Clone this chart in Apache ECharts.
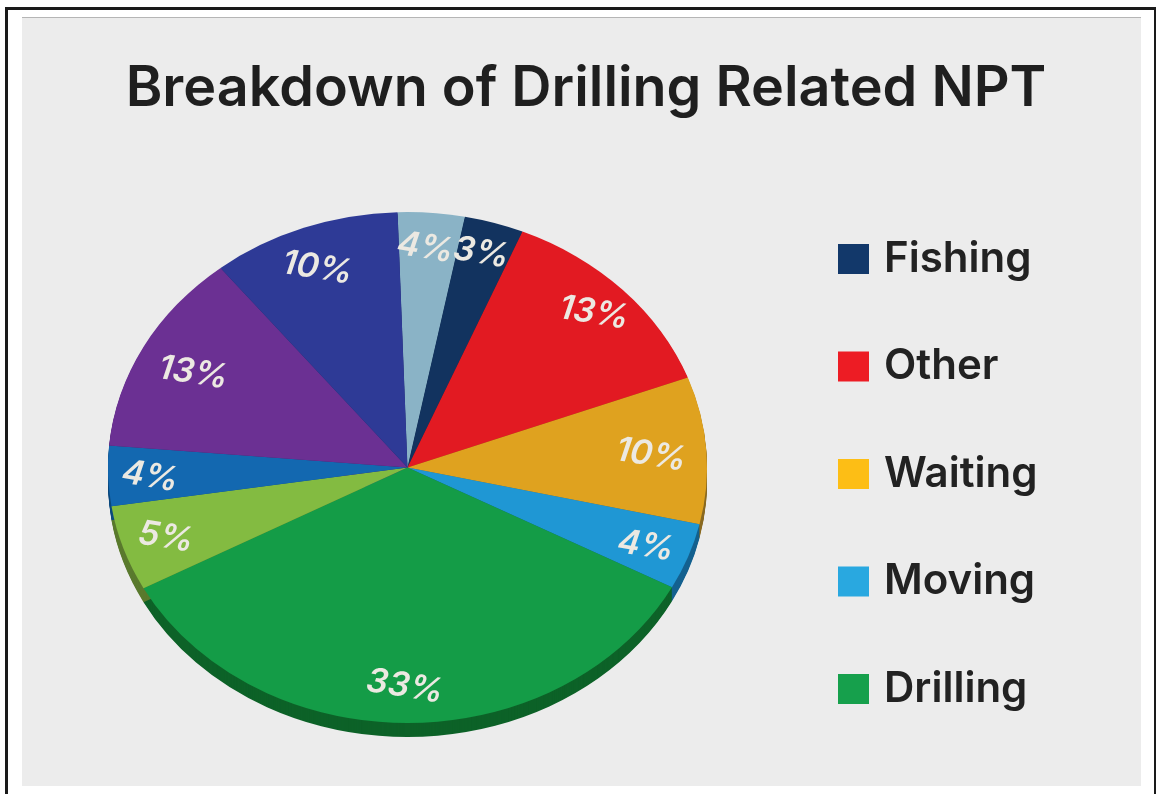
<!DOCTYPE html>
<html>
<head>
<meta charset="utf-8">
<style>html,body{margin:0;padding:0;background:#fff}#c{width:1156px;height:794px}</style>
<script src="https://cdn.jsdelivr.net/npm/echarts@6/dist/echarts.min.js"></script>
</head>
<body>
<div id="c"></div>
<script>
const chartTitle = 'Breakdown of Drilling Related NPT';
const legendNames = ['Fishing', 'Other', 'Waiting', 'Moving', 'Drilling'];
const legendColors = ['#12386a', '#ed1c24', '#fdbe15', '#29a8e0', '#16a04c'];
// clockwise from the top
const sliceShares = [3.6, 3.2, 13, 9.3, 4.2, 34.4, 5.4, 3.8, 12.9, 10.2];
const sliceLabels = ['4%', '3%', '13%', '10%', '4%', '33%', '5%', '4%', '13%', '10%'];
const sliceColors = ['#8ab3c6', '#12335f', '#e21a22', '#dfa21f', '#1f97d4', '#149c47', '#83bb41', '#1368b0', '#6b3093', '#2e3a96'];
const sideColors = ['#6d8e9e', '#0c2444', '#9c1418', '#8a6a20', '#14608f', '#0d6228', '#5a7a2e', '#0d4a7e', '#4a2068', '#1f2868'];

// layout only: how far along its radius each slice's label sits
const labelReach = [0.87, 0.885, 0.88, 0.825, 0.86, 0.85, 0.84, 0.85, 0.80, 0.84];
const FONT = 'Inter, Roboto, "Noto Sans", sans-serif';
const CX = 407.5, CY = 467.5, RX = 299.5, RY = 255.5, DEPTH = 14, START = -1.9;
const total = sliceShares.reduce((a, b) => a + b, 0);
let acc = START;
const sliceData = sliceShares.map((v, i) => {
  const s = acc; acc += v / total * 360;
  return { value: [s, acc, v], name: sliceLabels[i] };
});
const rad = d => (d - 90) * Math.PI / 180;

const chart = echarts.init(document.getElementById('c'), null, { renderer: 'canvas' });
chart.setOption({
  animation: false,
  backgroundColor: '#ffffff',
  title: {
    text: chartTitle, left: 581, top: 56, textAlign: 'center',
    textStyle: { fontFamily: FONT, fontWeight: 600, fontSize: 55.7, color: '#1f1f1f' }
  },
  graphic: [
    { type: 'rect', z: 0, shape: { x: 5, y: 7, width: 3, height: 787 }, style: { fill: '#1a1a1a' } },
    { type: 'rect', z: 0, shape: { x: 5, y: 7, width: 1151, height: 3 }, style: { fill: '#1a1a1a' } },
    { type: 'rect', z: 0, shape: { x: 1154, y: 7, width: 2, height: 787 }, style: { fill: '#1a1a1a' } },
    { type: 'rect', z: 0, shape: { x: 22, y: 17, width: 1119, height: 769 }, style: { fill: '#ececec' } },
    { type: 'rect', z: 0, shape: { x: 22, y: 17, width: 1119, height: 1 }, style: { fill: '#b5b5b5' } }
  ],
  legend: {
    orient: 'vertical', left: 833, top: 233,
    itemWidth: 31, itemHeight: 30, itemGap: 65.5, icon: 'rect', selectedMode: false,
    data: legendNames,
    textStyle: { fontFamily: FONT, fontWeight: 600, fontSize: 42, color: '#222222', padding: [0, 0, 0, 10] }
  },
  series: [
    {
      type: 'custom', name: 'side', coordinateSystem: 'none', z: 2, silent: true,
      data: sliceData,
      renderItem: (p, api) => {
        const children = [];
        for (let d = DEPTH; d >= 1; d -= 1) {
          children.push({
            type: 'sector', x: CX, y: CY + d, scaleY: RY / RX,
            shape: { cx: 0, cy: 0, r0: 0, r: RX, startAngle: rad(api.value(0)), endAngle: rad(api.value(1)), clockwise: true },
            style: { fill: sideColors[p.dataIndex] }
          });
        }
        return { type: 'group', children };
      }
    },
    {
      type: 'custom', name: 'top', coordinateSystem: 'none', z: 3, silent: true,
      data: sliceData,
      renderItem: (p, api) => {
        const s = api.value(0), e = api.value(1), m = (s + e) / 2;
        const reach = labelReach[p.dataIndex];
        return {
          type: 'group',
          children: [
            {
              type: 'sector', x: CX, y: CY, scaleY: RY / RX,
              shape: { cx: 0, cy: 0, r0: 0, r: RX, startAngle: rad(s), endAngle: rad(e), clockwise: true },
              style: { fill: sliceColors[p.dataIndex] }
            },
            {
              type: 'text', z2: 10,
              x: CX + RX * reach * Math.cos(rad(m)) - 3,
              y: CY + 2 + RY * reach * Math.sin(rad(m)),
              rotation: -9 * Math.PI / 180,
              style: {
                text: sliceLabels[p.dataIndex], align: 'center', verticalAlign: 'middle',
                fill: '#ece9e2', font: 'italic 600 34px ' + FONT
              }
            }
          ]
        };
      }
    }
  ].concat(legendNames.map((n, i) => ({
    type: 'custom', name: n, coordinateSystem: 'none', data: [],
    itemStyle: { color: legendColors[i] }, renderItem: () => null
  })))
});
</script>
</body>
</html>
